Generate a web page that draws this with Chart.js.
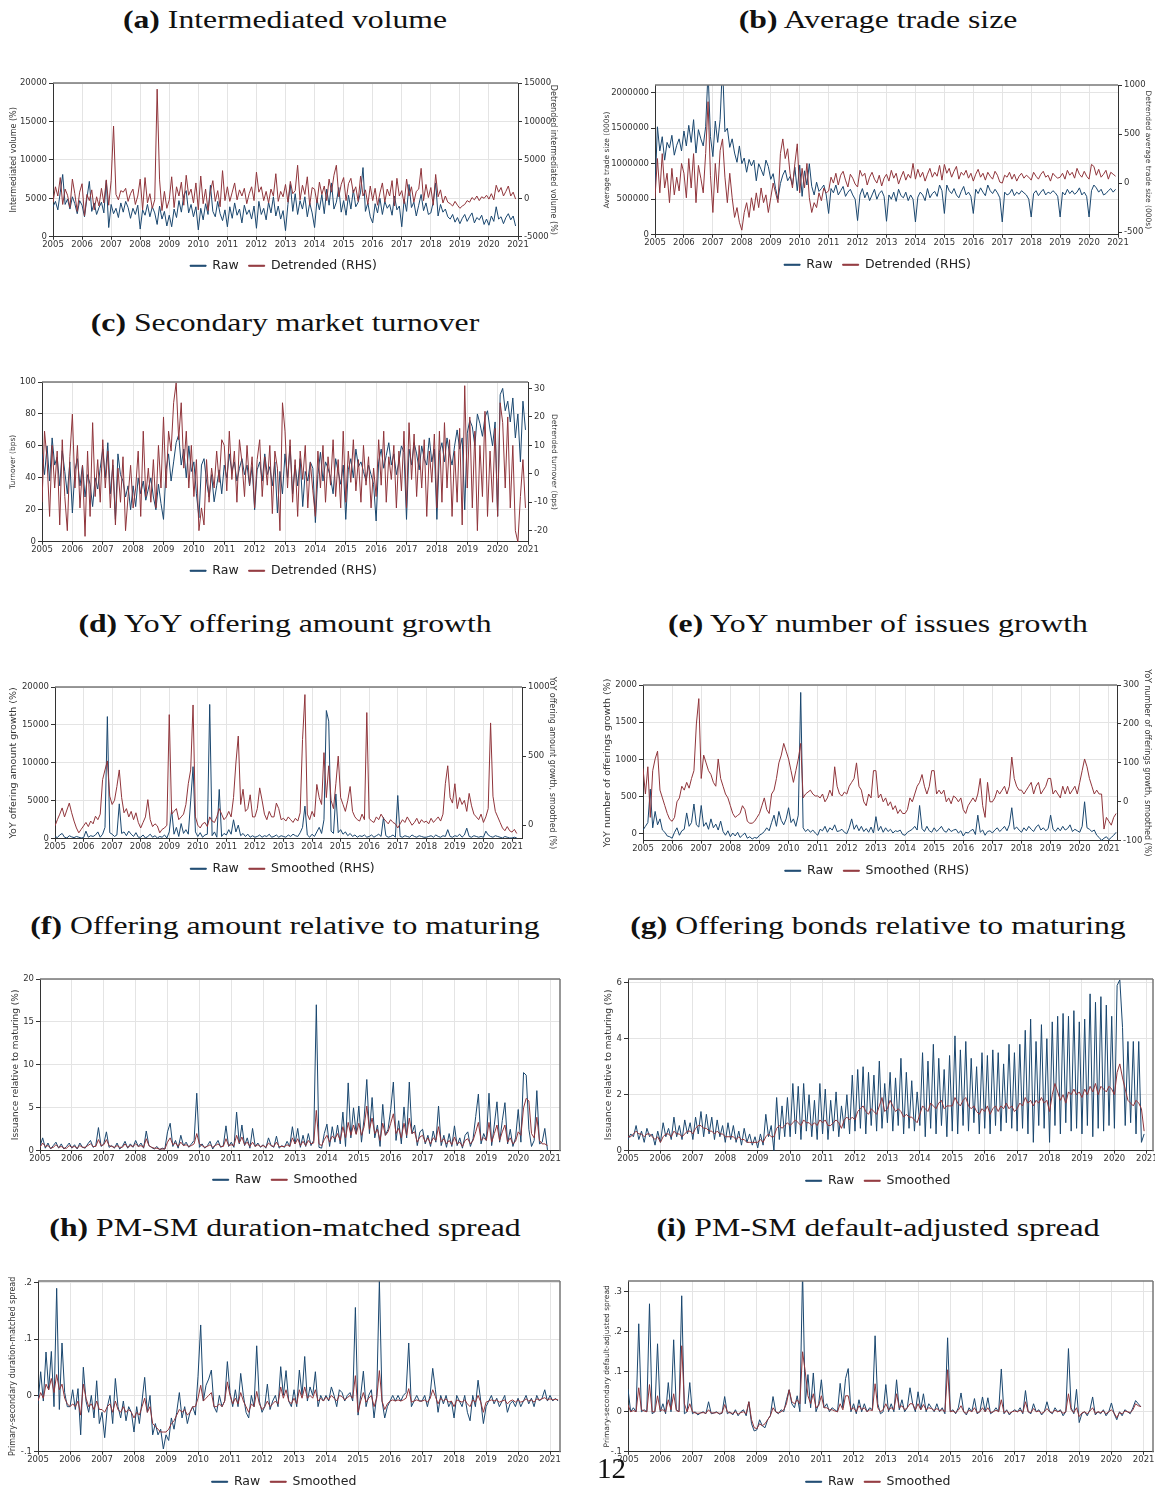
<!DOCTYPE html>
<html><head><meta charset="utf-8">
<script src="https://cdn.jsdelivr.net/npm/chart.js@4.4.1/dist/chart.umd.min.js"></script>
<style>
html,body{margin:0;padding:0;background:#fff;}
body{width:1155px;height:1489px;overflow:hidden;position:relative;}
.ttl{position:absolute;width:600px;text-align:center;font-family:"Liberation Serif","Times New Roman",serif;font-size:26px;line-height:30px;color:#111;transform:scaleX(1.22);transform-origin:50% 50%;white-space:nowrap;}
.box{position:absolute;}
.pg{position:absolute;font-family:"Liberation Serif",serif;font-size:29px;line-height:30px;left:597px;top:1453px;color:#111;}
</style></head><body>
<script>
// ---------- data (monthly observations starting Jan 2005) ----------
const START_YEAR = 2005, OBS_PER_YEAR = 12;
const yearTicks = [2005,2006,2007,2008,2009,2010,2011,2012,2013,2014,2015,2016,2017,2018,2019,2020,2021];

const interVolTicks = [0,5000,10000,15000,20000];
const interVolDetrTicks = [-5000,0,5000,10000,15000];
const tradeSizeTicks = [0,500000,1000000,1500000,2000000];
const tradeSizeDetrTicks = [-500,0,500,1000];
const turnoverTicks = [0,20,40,60,80,100];
const turnoverDetrTicks = [-20,-10,0,10,20,30];
const offerAmtTicks = [0,5000,10000,15000,20000];
const offerAmtSmTicks = [0,500,1000];
const issuesTicks = [0,500,1000,1500,2000];
const issuesSmTicks = [-100,0,100,200,300];
const amtRelTicks = [0,5,10,15,20];
const bondsRelTicks = [0,2,4,6];
const durMatchedTicks = [-0.1,0,0.1,0.2];
const defAdjTicks = [-0.1,0,0.1,0.2,0.3];

const interVolRaw = [
3900,4600,3500,5800,8100,4200,4900,3600,5200,4300,3000,4700,
4100,2600,5000,7200,3300,4400,2900,3800,4500,3100,7300,1200,
4200,3000,3700,2500,4400,3200,4600,3800,2400,3700,2900,4100,
1000,3500,2800,4200,2600,3900,3100,1600,4000,2300,3300,1400,
2800,1300,3600,2500,4700,3200,5400,6000,3100,4200,2600,3900,
900,3700,2200,4300,2900,6700,3300,2600,4600,3000,2100,3500,
1300,3900,2400,4400,2800,3600,1800,4100,2900,3500,2300,4000,
1100,4600,2900,3700,2200,4500,3100,5200,2700,4000,2300,3400,
800,4200,6800,3300,5600,2900,4700,3600,5200,2600,4400,3100,
1200,4800,3500,5500,3000,6200,4100,7000,3600,4500,6400,3200,
4700,2800,5400,3600,6100,3900,4500,5800,9000,3300,4400,2600,
1800,4300,3100,5000,2900,4600,3700,4200,2800,5300,3500,4000,
1300,4900,3300,6800,3800,4500,2700,4100,5500,3400,4400,2900,
3100,4500,7000,2700,4200,3200,3600,2600,2300,2900,1900,2500,
1700,2400,2900,2000,2600,3100,1800,2500,2200,2800,1600,2300,
1500,2700,2000,3900,2300,2600,1700,2500,3000,2200,2700,1400];
const interVolDetrended = [
-500,1500,300,2700,-800,1200,400,-1200,2500,600,-1700,800,
1900,-2300,500,-300,1100,-1500,200,-1000,1300,-600,2400,-900,
2300,9400,500,-200,1000,800,1300,-400,600,1200,-800,300,
2500,-1500,2700,-600,600,-1300,-200,14200,2400,-1600,900,-1300,
-200,2800,-1200,1500,300,2100,-900,3000,400,1200,-600,2000,
-1500,2900,-700,1200,-1600,900,2300,-400,1000,-1100,3600,-300,
1500,-400,800,2000,-200,1100,300,1300,-700,600,1500,-300,
3400,800,1500,-300,900,-600,1200,300,3200,-400,900,200,
1800,-500,2200,600,1000,4300,-200,1700,500,2800,-900,1400,
1200,-600,2100,500,1600,-300,2500,800,3000,4300,200,1800,
2700,-300,1900,2600,700,1500,-400,2900,300,1100,-800,1600,
-300,1300,-900,700,2000,-500,1200,300,2300,-1000,2600,300,
1000,-700,2500,300,1500,-500,900,1200,3900,-300,1800,100,
1400,-900,3100,200,1100,-600,300,-500,-700,-1000,-400,-900,
-1300,-1000,-800,-300,-500,100,-200,300,-300,200,0,400,
-100,600,-200,1700,800,1400,300,900,1600,300,800,-100];

const tradeSizeRaw = [
620000,1520000,1180000,1380000,1050000,1300000,1220000,1400000,1120000,1260000,1350000,1180000,
1460000,1250000,1540000,1300000,1620000,1150000,1480000,1350000,1250000,1520000,2300000,1380000,
1100000,1600000,1300000,1620000,2400000,1450000,1500000,1230000,1350000,1150000,1020000,1250000,
1000000,1080000,880000,1060000,970000,1050000,760000,1000000,920000,830000,1050000,960000,
780000,860000,650000,500000,720000,840000,910000,760000,820000,700000,950000,620000,
980000,540000,900000,700000,1000000,680000,560000,740000,610000,650000,700000,560000,
300000,650000,590000,700000,560000,620000,680000,540000,600000,640000,560000,500000,
200000,560000,650000,520000,600000,480000,560000,640000,500000,580000,620000,540000,
190000,560000,500000,600000,470000,640000,550000,520000,600000,480000,560000,500000,
180000,530000,600000,560000,480000,650000,520000,580000,610000,540000,700000,620000,
300000,700000,620000,580000,650000,560000,520000,610000,680000,560000,600000,540000,
300000,640000,580000,660000,600000,550000,700000,620000,580000,640000,590000,520000,
180000,600000,560000,580000,640000,550000,600000,570000,620000,590000,560000,500000,
250000,580000,620000,550000,600000,640000,560000,600000,580000,620000,590000,540000,
250000,600000,560000,640000,580000,620000,570000,600000,660000,560000,600000,540000,
250000,620000,700000,660000,600000,640000,560000,580000,620000,650000,600000,640000];
const tradeSizeDetrended = [
-150,250,-100,300,-50,100,-200,150,-120,60,-80,200,
100,-150,250,-50,300,-200,180,50,-100,300,830,80,
-300,200,-100,330,450,60,-200,100,-150,-350,-250,-400,
-480,-300,-200,-350,-150,-280,-100,-250,-50,-200,-120,-300,
-150,0,-100,-200,300,450,250,350,100,-50,200,400,
-100,150,-50,200,-150,-300,-200,-250,-100,-180,-50,-100,
-80,60,0,100,-20,80,120,30,-40,90,50,-10,
-40,130,70,100,-20,60,110,40,0,80,-30,50,
90,20,130,50,100,-10,60,120,30,90,50,200,
40,140,60,110,20,90,150,60,110,70,180,30,
190,100,150,60,120,170,40,110,80,130,50,100,
20,90,140,60,100,30,110,70,40,120,80,10,
0,80,60,110,40,90,20,70,100,50,80,60,
30,110,70,40,90,120,60,80,20,100,70,50,
60,100,40,130,80,110,50,150,90,60,120,70,
40,190,170,80,140,60,90,130,40,110,90,70];

const turnoverRaw = [
55,42,60,38,65,48,53,35,57,44,30,50,
18,45,52,35,48,28,42,36,22,40,33,46,
58,40,62,30,48,14,55,42,38,28,35,20,
35,22,40,30,38,26,33,40,28,20,36,24,
14,45,55,38,50,62,67,48,58,40,60,44,
50,30,15,48,52,38,28,42,25,35,45,30,
48,40,55,44,50,38,46,52,42,48,35,47,
20,45,50,38,55,42,47,35,50,18,44,30,
55,40,60,30,48,35,52,22,44,38,50,46,
12,42,56,38,50,46,40,30,52,44,36,48,
14,45,52,40,58,47,50,44,38,48,42,36,
13,50,58,46,54,62,48,55,42,50,60,56,
14,58,48,62,55,45,60,52,48,65,50,58,
14,56,62,50,65,55,48,60,70,58,65,20,
68,76,72,60,80,74,66,78,82,70,60,75,
16,92,96,82,88,75,90,65,80,50,88,70];
const turnoverDetrended = [
-10,15,5,-15,10,-5,8,-18,12,-8,-20,6,
21,-5,10,-12,3,-22,8,-15,18,-8,5,-10,
12,-5,8,-12,5,-18,2,-10,6,-20,-8,3,
-12,-5,8,-15,15,-8,2,-10,5,-12,10,-5,
20,-5,15,8,25,32,12,25,2,15,-5,10,
-8,5,-20,-12,-18,5,-10,2,-5,8,-3,12,
10,-6,15,-2,8,-10,12,4,-8,10,-4,6,
-12,5,12,-8,6,-4,10,-14,8,2,-20,25,
15,-5,12,-10,5,-15,8,-2,10,-12,4,-6,
-15,8,-5,10,-10,6,-4,12,-8,5,-12,15,
-10,8,-3,12,-6,5,-10,10,-4,6,-12,2,
-8,12,-4,15,-10,6,-2,10,-12,8,-6,15,
-12,18,-2,14,-8,10,-5,12,-15,8,-3,14,
-12,15,-10,18,-5,12,-15,8,-10,16,-18,31,
-5,20,-12,15,-20,10,-8,22,-15,8,-10,16,
-15,25,18,-5,20,-12,10,-20,-24,-8,5,-12];

const offerAmtRaw = [
300,150,500,700,200,100,400,250,150,300,200,100,
150,1000,200,400,300,500,900,200,600,1500,16100,800,
600,300,500,4600,700,900,400,1000,600,300,800,200,
200,500,100,300,600,200,400,100,300,200,500,100,
900,3800,600,1500,300,2000,700,1200,600,5000,9500,900,
300,800,200,500,600,17700,400,900,200,6500,300,700,
500,1200,600,2500,900,1800,400,700,300,600,200,400,
200,300,500,200,400,300,600,200,300,500,200,400,
300,200,500,300,600,400,300,800,1500,4300,500,200,
600,300,900,1500,700,2500,16900,15500,1000,700,5900,800,
1200,600,900,400,700,300,500,200,400,300,500,200,
300,500,200,400,600,300,2800,400,200,300,500,200,
5700,300,200,400,300,200,500,300,200,400,300,200,
200,300,400,200,500,300,200,400,300,1200,300,200,
400,300,600,200,500,1400,300,200,400,300,200,300,
200,1000,500,300,200,400,300,200,100,300,200,100,
100,200,100];
const offerAmtSmoothed = [
-5,40,80,125,60,110,160,90,30,-20,-55,-30,
-5,20,-10,30,10,65,40,80,330,400,465,210,
150,180,280,400,200,90,120,60,100,40,90,20,
-20,20,60,185,40,-10,10,-5,-55,-30,-20,0,
800,80,100,120,40,60,80,150,300,400,870,60,
0,-20,10,20,-10,60,30,20,60,120,80,40,
60,100,60,200,450,645,150,260,100,120,220,60,
60,120,270,180,80,40,100,60,60,160,120,40,
50,30,60,40,20,50,30,90,620,945,80,40,
100,60,295,200,150,525,200,430,180,120,300,500,
200,150,100,180,280,100,60,40,30,80,40,815,
50,30,20,60,40,80,50,30,10,40,20,10,
-20,10,40,20,60,30,0,20,50,10,40,20,
30,10,50,20,40,60,30,80,300,430,200,160,
300,120,200,150,180,100,230,140,80,60,40,80,
20,60,120,740,210,100,60,20,-20,-40,-10,-40,
-50,-30,-60];

const issuesRaw = [
50,100,150,600,80,300,120,200,50,20,-30,-40,
-60,20,80,-20,40,60,280,100,150,400,120,90,
380,100,150,60,200,80,130,50,170,30,-20,40,
-40,10,-30,20,-50,-20,10,-60,-40,-70,-50,-60,
-20,0,30,80,40,150,250,100,300,180,120,200,
350,150,200,100,250,1900,80,30,60,20,50,10,
-20,60,40,100,20,80,50,120,30,40,60,20,
0,80,200,60,120,40,100,30,70,20,90,10,
230,40,100,20,80,30,60,10,40,30,50,-10,
-20,20,40,60,100,50,380,70,30,100,40,20,
80,30,60,100,40,20,70,30,50,60,10,40,
-30,20,10,40,60,-10,250,20,50,-20,30,40,
10,50,80,30,60,100,40,120,350,60,90,50,
20,80,40,100,60,30,90,120,50,80,40,70,
250,60,30,80,40,100,50,70,120,30,60,40,
20,100,430,80,60,30,50,-20,-50,-90,-60,-40,
-80,-50,-20,20];
const issuesSmoothed = [
86,20,90,-40,80,110,130,30,10,-10,-30,-45,
-50,-40,0,10,40,30,50,35,60,80,200,265,
60,120,100,80,70,50,40,110,60,40,20,10,
-10,-30,-40,-35,-30,-10,-20,-50,-55,-55,-50,-40,
-30,-10,10,-20,-30,20,30,60,100,120,150,130,
110,80,50,80,110,150,10,20,25,30,20,15,
15,10,20,0,10,30,15,90,40,20,15,25,
20,40,50,60,100,40,30,0,-10,20,10,80,
80,10,20,0,10,-10,0,-20,-10,-30,-20,-30,
-30,-20,10,0,20,40,50,70,40,20,40,80,
80,20,30,20,30,0,10,-5,15,10,0,10,
-20,-30,-10,0,10,0,20,60,-10,-40,50,0,
0,10,30,20,30,40,20,40,115,60,40,30,
30,20,30,40,50,20,40,50,20,30,40,60,
60,20,30,20,10,40,20,40,20,30,40,20,
50,80,110,90,60,40,20,30,20,20,-70,-40,
-50,-60,-40,-30];

const amtRelMaturingRaw = [
0.5,1.5,0.3,0.9,0.2,0.6,1.0,0.3,0.8,0.2,0.5,0.9,
0.3,0.7,0.2,0.9,0.4,0.3,0.8,1.2,0.4,0.6,2.7,0.5,
0.8,2.2,0.4,0.6,0.3,0.9,0.2,0.5,1.1,0.3,0.8,0.4,
1.2,0.5,0.9,0.3,2.3,0.6,0.4,0.2,0.5,0.1,0.3,0.2,
2.2,3.2,0.5,1.2,0.3,1.8,0.6,1.0,0.4,0.8,1.2,6.7,
0.4,0.8,0.3,0.6,1.1,0.2,0.7,1.2,0.4,0.6,2.9,0.5,
1.0,0.4,4.5,0.8,3.0,0.6,1.5,0.3,2.6,0.5,0.9,0.4,
0.7,0.3,1.5,0.6,0.4,1.7,0.3,0.6,0.4,1.1,0.5,2.8,
0.8,2.6,0.4,1.8,0.5,2.0,0.6,1.2,17.0,0.4,0.3,2.0,
3.1,0.5,2.8,1.0,3.0,0.8,4.5,0.5,7.9,1.5,5.0,2.0,
5.2,1.0,3.8,8.3,2.0,6.2,1.5,3.0,0.5,5.4,1.8,2.5,
4.8,8.0,1.2,3.5,0.8,5.1,1.5,8.0,2.0,3.0,0.6,2.2,
2.5,0.8,1.8,0.5,2.3,1.0,5.2,0.6,1.8,0.4,2.0,0.5,
2.9,0.6,1.5,0.3,1.8,2.2,0.5,1.4,4.0,6.6,0.8,2.0,
1.2,6.7,0.6,3.0,5.7,1.0,3.5,5.6,0.8,2.5,0.5,1.5,
4.8,1.0,9.1,8.8,2.5,0.5,1.2,7.0,0.8,1.0,2.6,0.1];
const amtRelMaturingSmoothed = [
0.4,0.9,0.5,0.6,0.3,0.4,0.7,0.4,0.5,0.3,0.3,0.6,
0.4,0.5,0.3,0.6,0.4,0.4,0.6,0.8,0.5,0.5,1.3,0.6,
0.7,1.3,0.6,0.5,0.4,0.6,0.4,0.4,0.8,0.4,0.6,0.5,
0.8,0.5,0.6,0.4,1.4,0.6,0.4,0.3,0.3,0.2,0.2,0.2,
1.0,1.5,0.7,0.9,0.5,1.0,0.6,0.7,0.5,0.6,0.8,2.0,
0.8,0.6,0.4,0.5,0.7,0.4,0.6,0.8,0.5,0.5,1.4,0.6,
0.7,0.6,1.8,0.9,1.6,0.7,1.0,0.5,1.0,0.5,0.7,0.5,
0.6,0.4,0.9,0.6,0.5,1.0,0.5,0.5,0.5,0.7,0.5,1.5,
0.8,1.4,0.6,1.1,0.6,1.2,0.8,0.9,4.7,0.8,0.6,1.3,
1.8,1.0,1.7,1.4,2.0,1.2,2.8,1.5,3.3,1.8,3.0,1.9,
3.2,1.8,2.8,5.2,2.5,3.8,2.0,2.5,1.2,3.2,1.8,2.2,
3.2,4.3,2.0,2.6,1.5,3.2,1.8,3.8,2.0,2.2,1.0,1.6,
1.8,1.0,1.5,0.8,1.5,1.2,2.8,1.0,1.4,0.8,1.2,0.7,
1.6,0.8,1.0,0.5,1.2,1.4,0.8,1.2,2.2,3.3,1.2,1.5,
1.2,3.3,1.0,2.0,3.0,1.2,2.2,3.0,1.0,1.5,0.8,1.1,
2.2,1.8,5.0,6.1,5.8,2.0,1.5,3.9,1.2,0.8,0.8,0.6];

const bondsRelMaturingRaw = [
0.4,0.6,0.5,0.9,0.4,0.7,0.3,0.8,0.5,0.6,0.2,0.7,
0.3,1.0,0.5,0.8,0.4,1.2,0.5,0.9,0.4,1.1,0.6,1.0,
0.4,1.2,0.6,1.4,0.5,1.3,0.6,1.2,0.4,1.1,0.5,0.9,
0.3,1.0,0.4,0.9,0.3,0.7,0.2,0.8,0.3,0.6,0.2,0.5,
0.1,0.6,0.2,1.3,0.5,0.9,0.0,1.9,0.4,1.6,0.5,1.9,
0.5,2.4,0.6,2.3,0.4,2.4,0.7,2.0,0.5,1.8,0.4,2.4,
0.6,2.2,0.4,1.8,0.7,2.1,0.5,1.6,0.8,2.0,0.6,2.7,
0.7,2.9,0.8,3.0,0.6,2.8,0.9,2.7,0.7,3.2,0.8,2.4,
1.0,2.8,0.7,2.6,0.9,3.3,0.6,2.8,0.8,2.5,0.7,2.1,
0.9,3.5,0.5,3.2,0.8,3.8,0.6,3.3,0.9,2.9,0.5,3.4,
0.7,4.1,0.6,3.6,0.9,3.9,0.7,3.3,1.0,3.0,0.6,3.5,
0.8,3.4,0.6,3.6,0.9,3.5,0.7,3.1,1.0,3.8,0.8,3.5,
0.7,3.8,0.8,4.3,0.6,4.7,0.3,3.9,0.9,4.5,0.8,4.0,
0.3,4.6,0.9,4.8,0.6,4.9,1.0,4.8,0.7,5.0,0.8,4.6,
0.6,4.7,0.9,5.6,0.5,5.3,0.8,5.5,0.7,5.2,0.9,4.8,
0.8,5.9,6.1,4.4,0.9,3.9,1.0,3.9,0.6,3.9,0.3,0.6];
const bondsRelMaturingSmoothed = [
0.5,0.5,0.6,0.7,0.6,0.6,0.5,0.6,0.6,0.5,0.4,0.5,
0.3,0.5,0.6,0.6,0.5,0.7,0.6,0.6,0.5,0.6,0.7,0.7,
0.6,0.8,0.9,0.9,0.8,0.8,0.7,0.7,0.6,0.7,0.6,0.6,
0.5,0.5,0.5,0.5,0.4,0.5,0.4,0.4,0.3,0.3,0.3,0.3,
0.3,0.4,0.3,0.5,0.6,0.5,0.5,0.8,0.9,0.8,0.9,1.0,
0.9,1.0,1.1,1.0,0.9,1.1,1.0,1.0,0.9,1.0,0.9,1.1,
1.0,1.1,0.9,0.9,1.0,1.1,1.0,0.8,1.1,1.2,1.1,1.2,
1.1,1.4,1.5,1.6,1.4,1.3,1.5,1.4,1.3,1.6,1.9,1.4,
1.5,1.8,1.6,1.4,1.5,1.4,1.2,1.3,1.2,1.2,1.1,1.0,
1.3,1.6,1.5,1.4,1.7,1.6,1.5,1.7,1.8,1.5,1.6,1.6,
1.6,1.9,1.7,1.6,1.8,1.9,1.6,1.5,1.6,1.4,1.3,1.5,
1.4,1.6,1.3,1.5,1.6,1.4,1.6,1.5,1.7,1.5,1.6,1.4,
1.5,1.7,1.6,1.9,1.7,1.8,1.6,1.8,1.7,1.9,1.7,1.8,
1.4,2.0,2.4,2.1,1.8,2.0,1.7,2.1,2.0,2.2,2.0,2.1,
1.9,2.2,2.0,2.3,2.1,2.4,2.0,2.3,2.2,2.1,2.3,2.2,
2.0,2.8,3.1,2.6,2.2,1.8,1.7,1.6,1.8,1.7,1.5,0.7];

const durMatchedRaw = [
-0.015,0.042,-0.01,0.077,0.01,0.078,-0.02,0.19,-0.025,0.093,0.005,-0.02,
-0.02,0.01,-0.025,0.012,-0.07,0.05,-0.01,-0.03,0.0,-0.04,0.026,-0.05,
-0.03,-0.075,-0.02,0.0,-0.05,0.03,-0.02,-0.04,-0.01,-0.045,-0.02,-0.03,
-0.065,-0.02,-0.05,-0.01,0.032,-0.03,0.0,-0.07,-0.05,-0.07,-0.06,-0.095,
-0.07,-0.08,-0.04,-0.06,-0.03,0.005,-0.04,-0.02,-0.05,-0.03,-0.02,-0.035,
0.034,0.125,-0.01,0.018,0.029,0.045,-0.02,-0.03,0.0,-0.02,-0.01,0.06,
0.005,-0.02,0.01,-0.02,0.039,0.0,-0.03,-0.04,0.0,-0.02,0.088,-0.01,
-0.03,-0.02,0.02,-0.025,-0.01,0.0,-0.02,0.051,0.0,0.044,-0.01,-0.02,
0.01,-0.02,0.045,0.0,0.069,-0.01,0.015,0.0,0.042,-0.02,0.0,-0.01,
0.0,-0.01,0.015,0.0,-0.02,0.01,0.005,-0.01,0.0,0.005,-0.01,0.156,
-0.035,0.0,0.043,-0.02,0.0,0.01,-0.04,0.0,0.203,-0.01,-0.04,-0.02,
-0.01,0.0,-0.01,0.0,-0.01,0.0,0.005,0.093,-0.02,-0.01,0.0,-0.01,
-0.01,0.0,-0.02,0.0,0.048,0.01,-0.03,0.0,-0.015,0.0,-0.02,-0.01,
-0.04,0.0,-0.01,-0.02,0.0,-0.03,-0.045,0.0,-0.02,0.027,-0.01,-0.05,
-0.02,-0.01,0.0,-0.015,-0.005,-0.02,-0.01,0.0,-0.03,-0.015,-0.01,-0.02,
-0.005,-0.02,-0.01,0.0,-0.015,-0.005,-0.02,0.0,-0.01,-0.005,0.01,-0.01,
0.0,-0.01,-0.005,-0.01];
const durMatchedSmoothed = [
-0.01,0.005,-0.005,0.02,0.01,0.03,0.005,0.037,0.01,0.02,-0.005,-0.015,
-0.02,-0.015,-0.02,-0.01,-0.035,0.02,-0.005,-0.02,-0.015,-0.025,-0.01,-0.025,
-0.025,-0.03,-0.02,-0.015,-0.03,-0.01,-0.025,-0.03,-0.02,-0.03,-0.025,-0.03,
-0.04,-0.03,-0.035,-0.02,-0.005,-0.03,-0.02,-0.05,-0.055,-0.06,-0.065,-0.065,
-0.065,-0.06,-0.05,-0.045,-0.035,-0.025,-0.03,-0.025,-0.035,-0.03,-0.02,-0.02,
-0.005,0.018,-0.01,-0.005,0.0,0.005,-0.02,-0.02,-0.015,-0.02,-0.01,0.024,
0.0,-0.015,-0.005,-0.015,0.005,-0.01,-0.02,-0.03,-0.015,-0.02,0.007,-0.015,
-0.025,-0.02,-0.01,-0.02,-0.015,-0.01,-0.015,0.015,-0.005,0.01,-0.01,-0.015,
-0.005,-0.015,0.01,-0.005,0.015,-0.005,0.0,-0.005,0.01,-0.01,-0.005,-0.01,
-0.003,-0.008,0.0,-0.005,-0.01,0.0,-0.002,-0.008,-0.004,0.0,-0.005,0.035,
-0.03,-0.01,0.005,-0.012,-0.005,0.0,-0.02,-0.005,0.044,-0.01,-0.025,-0.015,
-0.01,-0.008,-0.01,-0.008,-0.01,-0.008,-0.005,0.012,-0.012,-0.01,-0.008,-0.01,
-0.01,-0.008,-0.012,-0.006,0.01,-0.002,-0.015,-0.005,-0.01,-0.006,-0.012,-0.01,
-0.02,-0.008,-0.01,-0.012,-0.008,-0.015,-0.02,-0.008,-0.012,0.0,-0.012,-0.03,
-0.012,-0.01,-0.008,-0.01,-0.008,-0.012,-0.01,-0.008,-0.015,-0.01,-0.008,-0.012,
-0.008,-0.012,-0.01,-0.006,-0.01,-0.008,-0.012,-0.006,-0.008,-0.006,-0.004,-0.008,
-0.006,-0.008,-0.007,-0.008];

const defAdjRaw = [
0.057,0.0,0.01,0.0,0.22,0.0,0.005,0.0,0.27,-0.005,0.0,0.17,
0.0,0.02,-0.005,0.073,0.0,0.18,0.005,0.0,0.29,-0.005,0.0,0.073,
-0.005,0.0,-0.008,-0.003,0.0,-0.005,0.025,-0.005,-0.003,0.0,-0.006,-0.004,
0.038,-0.005,0.0,-0.008,0.005,-0.01,0.0,0.005,-0.01,0.025,-0.03,-0.048,
-0.045,-0.02,-0.035,-0.04,-0.02,-0.01,0.038,0.0,-0.005,0.005,0.0,0.03,
0.055,0.02,0.01,0.04,0.0,0.35,0.02,0.093,0.01,0.097,0.0,0.02,
0.08,0.01,0.02,0.0,0.01,0.005,0.0,0.071,0.01,0.083,0.108,0.0,
0.02,-0.005,0.03,0.0,0.02,0.0,0.01,0.005,0.19,0.02,-0.005,0.0,
0.068,0.0,0.02,0.0,0.08,0.005,0.03,0.0,0.01,0.06,0.02,0.0,
0.05,0.005,0.045,0.0,0.02,0.01,0.0,0.02,0.0,0.01,-0.005,0.185,
0.0,0.005,-0.005,0.01,0.047,0.0,-0.008,0.01,0.0,0.033,-0.005,0.0,
0.037,0.0,0.035,-0.005,0.0,0.01,0.0,0.107,-0.005,0.005,-0.008,0.0,
0.005,0.0,0.01,-0.005,0.053,0.0,-0.005,0.02,0.0,0.005,-0.008,0.0,
0.025,0.0,-0.005,0.01,0.0,0.005,-0.01,0.0,0.158,0.01,-0.005,0.056,
-0.027,-0.005,0.0,-0.01,0.005,0.037,-0.008,0.0,-0.005,0.005,-0.01,0.0,
0.022,-0.005,-0.02,0.0,-0.01,0.005,0.0,-0.005,0.01,0.028,0.02,0.012];
const defAdjSmoothed = [
0.017,0.0,0.003,0.0,0.06,0.005,0.002,0.0,0.068,0.0,0.0,0.04,
0.003,0.005,0.0,0.03,0.005,0.045,0.003,0.0,0.165,0.02,0.0,0.02,
0.0,-0.003,-0.004,-0.003,-0.002,-0.004,0.005,-0.003,-0.003,-0.002,-0.004,-0.003,
0.018,0.0,-0.003,-0.004,0.0,-0.006,-0.002,0.0,-0.005,0.025,-0.02,-0.04,
-0.042,-0.03,-0.035,-0.03,-0.02,-0.01,0.01,0.0,-0.003,0.0,0.005,0.02,
0.055,0.025,0.02,0.03,0.02,0.15,0.1,0.04,0.02,0.045,0.01,0.015,
0.04,0.01,0.01,0.005,0.005,0.002,0.0,0.02,0.005,0.04,0.04,0.005,
0.01,0.0,0.015,0.005,0.01,0.0,0.005,0.003,0.07,0.01,0.0,0.005,
0.02,0.005,0.01,0.005,0.045,0.01,0.015,0.005,0.01,0.02,0.02,0.005,
0.02,0.005,0.018,0.005,0.01,0.008,0.003,0.008,0.003,0.005,0.0,0.105,
0.0,0.002,-0.002,0.004,0.015,0.0,-0.004,0.004,0.0,0.01,-0.002,0.0,
0.01,0.0,0.01,-0.002,0.0,0.004,0.0,0.03,-0.002,0.002,-0.004,0.0,
0.002,0.0,0.004,-0.002,0.025,0.0,-0.002,0.008,0.0,0.002,-0.004,0.0,
0.008,0.0,-0.002,0.004,0.0,0.002,-0.004,0.0,0.045,0.005,-0.002,0.01,
-0.012,-0.003,0.0,-0.005,0.002,0.01,-0.004,0.0,-0.002,0.002,-0.005,0.0,
0.005,-0.003,-0.015,-0.002,-0.005,0.002,0.0,-0.002,0.005,0.02,0.015,0.013];

// ---------- rendering ----------
const BLUE = '#1a476f', RED = '#90353b';
const FONT = "'DejaVu Sans', sans-serif";
Chart.defaults.font.family = FONT;
Chart.defaults.color = '#333';

const toPoints = vals => vals.map((v, i) => ({ x: START_YEAR + i / OBS_PER_YEAR, y: v }));
const plain = v => String(Math.round(v * 1000) / 1000);
const stata = v => String(Math.round(v * 1000) / 1000).replace(/^0\./, '.').replace(/^-0\./, '-.');
const fixedTicks = list => sc => { sc.ticks = list.map(v => ({ value: v })); };

const framePlugin = {
  id: 'frame',
  afterDraw(chart, args, opts) {
    const { ctx, chartArea: a } = chart;
    ctx.save();
    ctx.strokeStyle = '#777';
    ctx.lineWidth = 1.5;
    ctx.beginPath();
    ctx.moveTo(a.left, a.top); ctx.lineTo(a.right, a.top);
    if (opts.right) { ctx.moveTo(a.right, a.top); ctx.lineTo(a.right, a.bottom + 0.5); }
    ctx.stroke();
    ctx.restore();
  }
};

function addTitle(letter, text, cx, cy) {
  const d = document.createElement('div');
  d.className = 'ttl';
  d.style.left = (cx - 300) + 'px';
  d.style.top = (cy - 15) + 'px';
  d.innerHTML = '<b>(' + letter + ')</b> ' + text;
  document.body.appendChild(d);
}

function makePanel(P) {
  const padT = 30, legFont = 12.5, legPad = 10, padB = 2;
  const legH = legFont + legPad + 10;
  const xH = P.legY - legPad - legFont / 2 - P.B;
  const W = P.wl + (P.R - P.L) + (P.wr || 0) + (P.padR || 0);
  const H = padT + (P.B - P.T) + xH + legH + padB;
  const box = document.createElement('div');
  box.className = 'box';
  box.style.left = (P.L - P.wl) + 'px';
  box.style.top = (P.T - padT) + 'px';
  const cv = document.createElement('canvas');
  cv.width = W; cv.height = H;
  cv.style.width = W + 'px'; cv.style.height = H + 'px';
  box.appendChild(cv);
  document.body.appendChild(box);

  const yAxis = (side, s) => ({
    type: 'linear', position: side, min: s.min, max: s.max,
    afterFit: sc => { sc.width = side === 'left' ? P.wl : P.wr; },
    afterBuildTicks: fixedTicks(s.ticks),
    ticks: { autoSkip: false, callback: s.fmt || plain, font: { size: P.tick }, padding: 2, color: '#333' },
    grid: { drawOnChartArea: side === 'left', color: '#e4e4e4', tickColor: '#333', tickLength: 4, lineWidth: 1 },
    border: { display: true, color: '#333', width: 1 },
    title: { display: true, text: s.title, font: { size: s.tf }, color: '#333', padding: { top: 0, bottom: 0 } }
  });

  const scales = {
    x: {
      type: 'linear', min: 2005, max: P.xMax,
      afterFit: sc => { sc.height = xH; },
      afterBuildTicks: fixedTicks(yearTicks),
      ticks: { autoSkip: false, maxRotation: 0, minRotation: 0,
               callback: v => String(v), font: { size: P.tick }, padding: 0, color: '#333' },
      grid: { color: '#e4e4e4', tickColor: '#333', tickLength: 3, lineWidth: 1 },
      border: { color: '#333', width: 1 }
    },
    y: yAxis('left', P.left)
  };
  if (P.right) scales.y1 = yAxis('right', P.right);

  new Chart(cv, {
    type: 'line',
    data: {
      datasets: [
        { label: P.labels[0], data: toPoints(P.series[0]), yAxisID: 'y', borderColor: BLUE, backgroundColor: BLUE,
          borderWidth: 1, pointRadius: 0, tension: 0, order: 2 },
        { label: P.labels[1], data: toPoints(P.series[1]), yAxisID: P.right ? 'y1' : 'y', borderColor: RED, backgroundColor: RED,
          borderWidth: 1, pointRadius: 0, tension: 0, order: 1 }
      ]
    },
    options: {
      responsive: false, animation: false, events: [],
      layout: { padding: { top: padT, left: 0, right: P.padR || 0, bottom: padB } },
      plugins: {
        legend: { position: 'bottom', labels: { boxWidth: 16, boxHeight: 1, padding: legPad,
                  font: { size: legFont }, color: '#222', sort: (a, b) => a.datasetIndex - b.datasetIndex } },
        tooltip: { enabled: false },
        frame: { right: !P.right }
      },
      scales
    },
    plugins: [framePlugin]
  });
}

addTitle('a', 'Intermediated volume', 285, 20);
addTitle('b', 'Average trade size', 878, 20);
addTitle('c', 'Secondary market turnover', 285, 323);
addTitle('d', 'YoY offering amount growth', 285, 624);
addTitle('e', 'YoY number of issues growth', 878, 624);
addTitle('f', 'Offering amount relative to maturing', 285, 926);
addTitle('g', 'Offering bonds relative to maturing', 878, 926);
addTitle('h', 'PM-SM duration-matched spread', 285, 1228);
addTitle('i', 'PM-SM default-adjusted spread', 878, 1228);

makePanel({ L: 53, R: 518, T: 83, B: 237, wl: 44, wr: 40, legY: 266, xMax: 2021, tick: 8.5,
  left: { min: 0, max: 20000, ticks: interVolTicks, title: 'Intermediated volume (%)', tf: 8 },
  right: { min: -5000, max: 15000, ticks: interVolDetrTicks, title: 'Detrended intermediated volume (%)', tf: 8 },
  labels: ['Raw', 'Detrended (RHS)'], series: [interVolRaw, interVolDetrended] });

makePanel({ L: 655, R: 1118, T: 85, B: 235, wl: 52, wr: 34, legY: 265, xMax: 2021, tick: 8.5,
  left: { min: 0, max: 2108000, ticks: tradeSizeTicks, title: 'Average trade size (000s)', tf: 7.5 },
  right: { min: -527, max: 1000, ticks: tradeSizeDetrTicks, title: 'Detrended average trade size (000s)', tf: 7.5 },
  labels: ['Raw', 'Detrended (RHS)'], series: [tradeSizeRaw, tradeSizeDetrended] });

makePanel({ L: 42, R: 528, T: 382, B: 542, wl: 33, wr: 30, legY: 571, xMax: 2021, tick: 8.5,
  left: { min: 0, max: 100, ticks: turnoverTicks, title: 'Turnover (bps)', tf: 7.5 },
  right: { min: -23.9, max: 32.3, ticks: turnoverDetrTicks, title: 'Detrended turnover (bps)', tf: 7.5 },
  labels: ['Raw', 'Detrended (RHS)'], series: [turnoverRaw, turnoverDetrended] });

makePanel({ L: 55, R: 522, T: 687, B: 839, wl: 47, wr: 35, legY: 869, xMax: 2021.35, tick: 8.5,
  left: { min: 0, max: 20000, ticks: offerAmtTicks, title: 'YoY offering amount growth (%)', tf: 9.5 },
  right: { min: -98, max: 1000, ticks: offerAmtSmTicks, title: 'YoY offering amount growth, smoothed (%)', tf: 8 },
  labels: ['Raw', 'Smoothed (RHS)'], series: [offerAmtRaw, offerAmtSmoothed] });

makePanel({ L: 643, R: 1117, T: 685, B: 841, wl: 41, wr: 35, legY: 871, xMax: 2021.28, tick: 8.5,
  left: { min: -94, max: 2000, ticks: issuesTicks, title: 'YoY number of offerings growth (%)', tf: 9.5 },
  right: { min: -100, max: 300, ticks: issuesSmTicks, title: 'YoY number of offerings growth, smoothed (%)', tf: 8 },
  labels: ['Raw', 'Smoothed (RHS)'], series: [issuesRaw, issuesSmoothed] });

makePanel({ L: 40, R: 560, T: 979, B: 1151, wl: 30, padR: 16, legY: 1180, xMax: 2021.31, tick: 8.5,
  left: { min: 0, max: 20, ticks: amtRelTicks, title: 'Issuance relative to maturing (%)', tf: 9 },
  labels: ['Raw', 'Smoothed'], series: [amtRelMaturingRaw, amtRelMaturingSmoothed] });

makePanel({ L: 628, R: 1153, T: 979, B: 1151, wl: 25, padR: 16, legY: 1181, xMax: 2021.19, tick: 8.5,
  left: { min: 0, max: 6.13, ticks: bondsRelTicks, title: 'Issuance relative to maturing (%)', tf: 9 },
  labels: ['Raw', 'Smoothed'], series: [bondsRelMaturingRaw, bondsRelMaturingSmoothed] });

makePanel({ L: 38, R: 560, T: 1281, B: 1452, wl: 30, padR: 16, legY: 1482, xMax: 2021.31, tick: 8.5,
  left: { min: -0.1, max: 0.203, ticks: durMatchedTicks, fmt: stata, title: 'Primary-secondary duration-matched spread', tf: 8 },
  labels: ['Raw', 'Smoothed'], series: [durMatchedRaw, durMatchedSmoothed] });

makePanel({ L: 628, R: 1153, T: 1281, B: 1452, wl: 25, padR: 16, legY: 1482, xMax: 2021.29, tick: 8.5,
  left: { min: -0.1, max: 0.327, ticks: defAdjTicks, fmt: stata, title: 'Primary-secondary default-adjusted spread', tf: 7.5 },
  labels: ['Raw', 'Smoothed'], series: [defAdjRaw, defAdjSmoothed] });

const pg = document.createElement('div');
pg.className = 'pg';
pg.textContent = '12';
document.body.appendChild(pg);
</script>
</body></html>
